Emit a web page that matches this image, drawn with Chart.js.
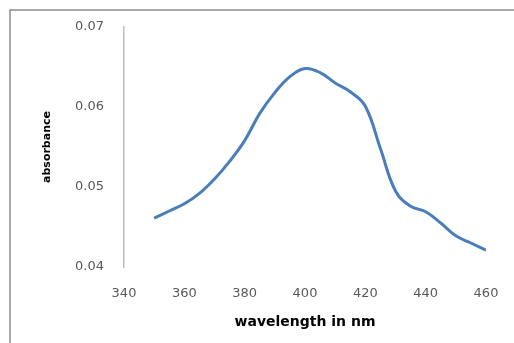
<!DOCTYPE html>
<html>
<head>
<meta charset="utf-8">
<script src="https://cdn.jsdelivr.net/npm/chart.js@4"></script>
<style>
  html, body { margin: 0; padding: 0; background: #fff; }
  #wrap { width: 514px; height: 343px; position: relative; }
</style>
</head>
<body>
<div id="wrap"><canvas id="chart"></canvas></div>
<script>
const wavelengths = [350, 355, 360, 365, 370, 375, 380, 385, 390, 395, 400, 405, 410, 415, 420, 425, 430, 435, 440, 445, 450, 455, 460];
const absorbance = [0.0461, 0.0470, 0.0479, 0.0492, 0.0510, 0.0532, 0.0558, 0.0592, 0.0618, 0.0638, 0.0648, 0.0643, 0.0630, 0.0619, 0.0601, 0.0548, 0.0495, 0.0476, 0.0469, 0.0455, 0.0439, 0.0430, 0.0421];
const xTicks = [340, 360, 380, 400, 420, 440, 460];
const yTicks = [0.04, 0.05, 0.06, 0.07];

const points = wavelengths.map((w, i) => ({ x: w, y: absorbance[i] }));

// frame around the chart, only top and left edges show in the picture
const framePlugin = {
  id: "frame",
  beforeDraw(chart) {
    const ctx = chart.ctx;
    ctx.save();
    ctx.strokeStyle = "#8c8c8c";
    ctx.lineWidth = 1.5;
    ctx.strokeRect(10, 10, 700, 700);
    ctx.restore();
  }
};

new Chart(document.getElementById("chart"), {
  type: "line",
  data: {
    datasets: [{
      data: points,
      borderColor: "#4a7ebb",
      borderWidth: 3,
      pointRadius: 0,
      tension: 0.4,
      fill: false
    }]
  },
  options: {
    responsive: true,
    maintainAspectRatio: false,
    animation: false,
    layout: { padding: { top: 27, right: 28, left: 0, bottom: 0 } },
    plugins: { legend: { display: false }, tooltip: { enabled: false } },
    scales: {
      x: {
        type: "linear",
        min: 340,
        max: 460,
        afterBuildTicks: s => { s.ticks = xTicks.map(v => ({ value: v })); },
        afterFit: s => { s.height = 76; s.paddingLeft = 0; s.paddingRight = 0; },
        grid: { display: false, drawTicks: false },
        border: { display: false },
        ticks: {
          color: "#595959",
          font: { family: "DejaVu Sans", size: 13 },
          padding: 19,
          maxRotation: 0
        },
        title: {
          display: true,
          text: "wavelength in nm",
          color: "#000",
          font: { family: "DejaVu Sans", size: 14, weight: "bold" },
          padding: { top: 4, bottom: 12.6 }
        }
      },
      y: {
        min: 0.04,
        max: 0.07,
        afterBuildTicks: s => { s.ticks = yTicks.map(v => ({ value: v })); },
        afterFit: s => { s.width = 124; s.paddingTop = 0; s.paddingBottom = 0; },
        grid: { display: false, drawTicks: false },
        border: { display: true, color: "#bdbdbd", width: 1.5 },
        ticks: {
          color: "#595959",
          font: { family: "DejaVu Sans", size: 13 },
          padding: 20,
          callback: v => v.toFixed(2)
        },
        title: {
          display: true,
          text: "absorbance",
          color: "#000",
          font: { family: "DejaVu Sans", size: 11, weight: "bold" },
          padding: { top: 40.4, bottom: 4 }
        }
      }
    }
  },
  plugins: [framePlugin]
});
</script>
</body>
</html>
